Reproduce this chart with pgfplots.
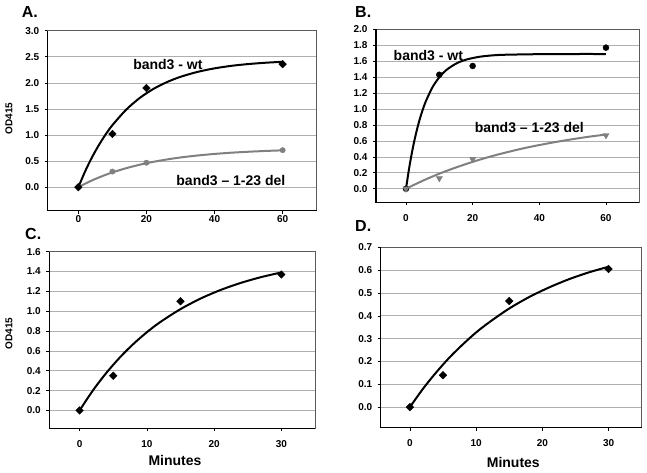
\documentclass[border=0pt]{standalone}
\usepackage{fontspec}
\setmainfont{Liberation Sans}
\usepackage{pgfplots}
\pgfplotsset{compat=1.18}
\definecolor{gridgray}{RGB}{175,175,175}
\definecolor{sergray}{RGB}{128,128,128}
\definecolor{framegray}{RGB}{90,90,90}
\pgfplotsset{panel/.style={
  scale only axis, anchor=south west,
  axis line style={draw=framegray, line width=0.7pt},
  ymajorgrids, grid style={gridgray, line width=0.7pt},
  tick align=outside, major tick length=3pt, tick style={black, line width=0.6pt},
  xtick pos=bottom, ytick pos=left,
  /pgf/number format/assume math mode=true,
  ticklabel style={font=\fontsize{10}{11}\selectfont\bfseries},
  y tick label style={/pgf/number format/fixed, /pgf/number format/fixed zerofill, /pgf/number format/precision=1, xshift=-2pt},
  after end axis/.code={\draw[black, line width=1.2pt] (rel axis cs:0,1) -- (rel axis cs:0,0) -- (rel axis cs:1,0);},
}}
\tikzset{fitblack/.style={black, line width=2pt, smooth, no markers},
  fitgray/.style={sergray, line width=2pt, smooth, no markers},
  lbl/.style={font=\fontsize{14}{16}\selectfont\bfseries}}
\begin{document}
\begin{tikzpicture}
\useasboundingbox (0,0) rectangle (647pt,473pt);
% Panel A
\begin{axis}[panel, at={(47.7pt,262.3pt)}, width=269pt, height=180pt,
  xmin=-9, xmax=70, ymin=-0.45, ymax=3.0,
  xtick={0,20,40,60}, ytick={0,0.5,1,1.5,2,2.5,3},
  x tick label style={yshift=2pt}]
\addplot[fitgray] coordinates {(0,0) (2,0.068) (4,0.130) (6,0.186) (8,0.237) (10,0.284) (14,0.364) (18,0.431) (22,0.486) (26,0.532) (30,0.570) (35,0.608) (40,0.638) (45,0.662) (50,0.680) (55,0.695) (60,0.707)};
\addplot[only marks, mark=*, mark size=2.7pt, mark options={fill=sergray, draw=sergray}] coordinates {(0,0) (10,0.30) (20,0.47) (60,0.71)};
\addplot[fitblack] coordinates {(0,0) (2,0.305) (4,0.572) (6,0.805) (8,1.010) (10,1.189) (14,1.483) (18,1.709) (22,1.882) (26,2.014) (30,2.116) (35,2.210) (40,2.278) (45,2.327) (50,2.361) (55,2.386) (60,2.404)};
\addplot[only marks, mark=square*, mark size=2.7pt, mark options={rotate=45, fill=black, draw=black}] coordinates {(0,0) (10,1.02) (20,1.90) (60,2.36)};
\node[lbl] at (axis cs:26.3,2.35) {band3 - wt};
\node[lbl] at (axis cs:44.8,0.135) {band3 -- 1-23 del};
\end{axis}
% Panel B
\begin{axis}[panel, at={(376pt,270.7pt)}, width=263.3pt, height=173pt,
  xmin=-9, xmax=70, ymin=-0.17, ymax=2.0,
  xtick={0,20,40,60}, ytick={0,0.2,0.4,0.6,0.8,1.0,1.2,1.4,1.6,1.8,2.0},
  x tick label style={yshift=-5.5pt}]
\addplot[fitblack] coordinates {(0,0) (1,0.272) (2,0.501) (3,0.693) (4,0.854) (5,0.989) (6,1.102) (8,1.277) (10,1.399) (12,1.486) (15,1.569) (18,1.619) (22,1.655) (26,1.673) (30,1.681) (40,1.688) (50,1.690) (60,1.690)};
\addplot[only marks, mark=*, mark size=3pt, mark options={fill=black, draw=black}] coordinates {(0,0) (10,1.43) (20,1.54) (60,1.77)};
\addplot[fitgray] coordinates {(0,0) (5,0.100) (10,0.189) (15,0.267) (20,0.337) (25,0.400) (30,0.455) (35,0.505) (40,0.548) (45,0.587) (50,0.622) (55,0.653) (60,0.680)};
\addplot[only marks, mark=triangle*, mark size=3.6pt, mark options={rotate=180, fill=sergray, draw=sergray}] coordinates {(0,0) (10,0.13) (20,0.37) (60,0.67)};
\node[lbl] at (axis cs:6.7,1.665) {band3 - wt};
\node[lbl] at (axis cs:37,0.765) {band3 -- 1-23 del};
\end{axis}
% Panel C
\begin{axis}[panel, at={(49.3pt,44.7pt)}, width=265.7pt, height=176.6pt,
  xmin=-4.5, xmax=35, ymin=-0.18, ymax=1.6,
  xtick={0,10,20,30}, ytick={0,0.2,0.4,0.6,0.8,1.0,1.2,1.4,1.6},
  x tick label style={yshift=-5.5pt}]
\addplot[fitblack] coordinates {(0,0) (2,0.203) (4,0.380) (6,0.535) (8,0.670) (10,0.788) (12,0.891) (15,1.021) (18,1.128) (21,1.215) (24,1.286) (27,1.344) (30,1.391)};
\addplot[only marks, mark=square*, mark size=2.7pt, mark options={rotate=45, fill=black, draw=black}] coordinates {(0,0) (5,0.35) (15,1.10) (30,1.37)};
\end{axis}
% Panel D
\begin{axis}[panel, at={(380.7pt,45.3pt)}, width=261pt, height=180.4pt,
  xmin=-4.4, xmax=35, ymin=-0.09, ymax=0.7,
  xtick={0,10,20,30}, ytick={0,0.1,0.2,0.3,0.4,0.5,0.6,0.7},
  x tick label style={yshift=-5.5pt}]
\addplot[fitblack] coordinates {(0,0) (2,0.081) (4,0.153) (6,0.218) (8,0.275) (10,0.327) (12,0.372) (15,0.432) (18,0.482) (21,0.524) (24,0.560) (27,0.590) (30,0.615)};
\addplot[only marks, mark=square*, mark size=2.7pt, mark options={rotate=45, fill=black, draw=black}] coordinates {(0,0) (5,0.14) (15,0.465) (30,0.605)};
\end{axis}
% labels
\node[anchor=west, inner sep=0pt, font=\fontsize{16}{18}\selectfont\bfseries] at (21.7pt,461.3pt) {A.};
\node[anchor=west, inner sep=0pt, font=\fontsize{16}{18}\selectfont\bfseries] at (355pt,461pt) {B.};
\node[anchor=west, inner sep=0pt, font=\fontsize{16}{18}\selectfont\bfseries] at (25pt,239pt) {C.};
\node[anchor=west, inner sep=0pt, font=\fontsize{16}{18}\selectfont\bfseries] at (355pt,247pt) {D.};
\node[rotate=90, inner sep=0pt, font=\fontsize{10}{11}\selectfont\bfseries] at (9pt,354.7pt) {OD415};
\node[rotate=90, inner sep=0pt, font=\fontsize{10}{11}\selectfont\bfseries] at (9pt,139.7pt) {OD415};
\node[inner sep=0pt, font=\fontsize{14}{16}\selectfont\bfseries] at (175pt,13pt) {Minutes};
\node[inner sep=0pt, font=\fontsize{14}{16}\selectfont\bfseries] at (513.3pt,10.3pt) {Minutes};
\end{tikzpicture}
\end{document}
